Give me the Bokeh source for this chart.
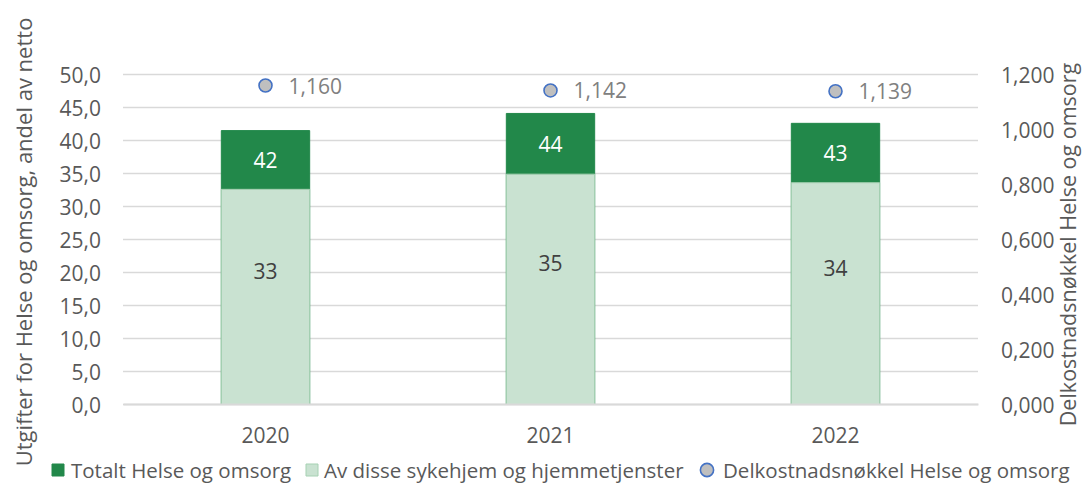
import math
from bokeh.plotting import figure
from bokeh.models import (ColumnDataSource, Range1d, LinearAxis, FixedTicker,
                          CustomJSTickFormatter, Legend, LegendItem, FactorRange, Label)
from bokeh.core.properties import value
from bokeh.embed import file_html
from bokeh.resources import INLINE

# ---- data ----
years = ["2020", "2021", "2022"]
totalt = [41.5, 44.1, 42.6]          # Totalt Helse og omsorg (share of net, %)
sykehjem = [32.6, 34.9, 33.6]        # Av disse sykehjem og hjemmetjenster
delkost = [1.160, 1.142, 1.139]      # Delkostnadsnøkkel Helse og omsorg
left_ticks = [0, 5, 10, 15, 20, 25, 30, 35, 40, 45, 50]
right_ticks = [0.0, 0.2, 0.4, 0.6, 0.8, 1.0, 1.2]
LEFT_MAX = 50
RIGHT_MAX = 1.2

# ---- layout geometry (pixels) ----
W, H = 1084, 483
PLOT_L, PLOT_R = 122.5, 977.5        # where the category area starts/ends
PLOT_T, PLOT_B = 74, 404             # y of max / y of zero
FRAME_L = 16
n = len(years)
px_per_cat = (PLOT_R - PLOT_L) / n
pad = (W - PLOT_R) / px_per_cat      # extra category-widths on each side
px_per_unit = (PLOT_B - PLOT_T) / LEFT_MAX
y_lo = -(H - PLOT_B) / px_per_unit
y_hi = LEFT_MAX + PLOT_T / px_per_unit
k = RIGHT_MAX / LEFT_MAX

FONT = "Open Sans"
DARK = "#22884A"
LIGHT = "#C9E2D1"
GRID = "#D9D9D9"
TXT = "#595959"
FS = "21px"
TITLE_FS = "22px"

src = ColumnDataSource(dict(
    year=years,
    totalt=totalt,
    sykehjem=sykehjem,
    delkost=delkost,
    dark_mid=[(t + s) / 2 for t, s in zip(totalt, sykehjem)],
    light_mid=[s / 2 for s in sykehjem],
    tot_lbl=[f"{t:.0f}" for t in totalt],
    syk_lbl=[f"{s:.0f}" for s in sykehjem],
    del_lbl=[f"{d:.3f}".replace(".", ",") for d in delkost],
))

p = figure(x_range=FactorRange(*years, range_padding=pad, range_padding_units="absolute"),
           y_range=Range1d(y_lo, y_hi),
           width=W, height=H, output_backend="svg", toolbar_location=None,
           min_border_left=FRAME_L, min_border_right=0, min_border_top=0,
           min_border_bottom=0)
p.extra_y_ranges = {"right": Range1d(y_lo * k, y_hi * k)}
p.outline_line_color = None
p.background_fill_color = "white"
p.border_fill_color = "white"
p.xgrid.visible = False
p.ygrid.visible = False

# gridlines across the category area only
p.segment(x0=0, x1=n, y0=left_ticks, y1=left_ticks, line_color=GRID, line_width=1.5)

# left axis
ya = p.yaxis[0]
ya.fixed_location = 0
ya.ticker = FixedTicker(ticks=left_ticks)
ya.formatter = CustomJSTickFormatter(code="return tick.toFixed(1).replace('.', ',');")
ya.axis_line_color = None
ya.major_tick_line_color = None
ya.minor_tick_line_color = None
ya.major_tick_out = 0
ya.major_label_standoff = 22
ya.major_label_text_font = FONT
ya.major_label_text_font_size = FS
ya.major_label_text_color = TXT
ya.axis_label = "Utgifter for Helse og omsorg, andel av netto"
ya.axis_label_text_font = FONT
ya.axis_label_text_font_size = TITLE_FS
ya.axis_label_text_font_style = "normal"
ya.axis_label_text_color = TXT
ya.axis_label_standoff = 19

# right axis
ra = LinearAxis(y_range_name="right", ticker=FixedTicker(ticks=right_ticks),
                formatter=CustomJSTickFormatter(code="return tick.toFixed(3).replace('.', ',');"))
ra.fixed_location = n
ra.axis_line_color = None
ra.major_tick_line_color = None
ra.minor_tick_line_color = None
ra.major_tick_out = 0
ra.major_label_standoff = 23
ra.major_label_text_font = FONT
ra.major_label_text_font_size = FS
ra.major_label_text_color = TXT
p.add_layout(ra, "right")

p.add_layout(Label(x=n, y=RIGHT_MAX / 2, y_range_name="right", x_offset=89, y_offset=-5,
                   text="Delkostnadsnøkkel Helse og omsorg", angle=math.pi / 2,
                   text_align="center", text_baseline="middle",
                   text_font=FONT, text_font_size="21.5px", text_color=TXT))

# x axis
xa = p.xaxis[0]
xa.fixed_location = 0
xa.bounds = (0, n)
xa.axis_line_color = GRID
xa.axis_line_width = 2
xa.major_tick_line_color = None
xa.minor_tick_line_color = None
xa.major_tick_out = 0
xa.major_label_standoff = 22
xa.major_label_text_font = FONT
xa.major_label_text_font_size = FS
xa.major_label_text_color = TXT

# bars (overlapping)
r_dark = p.vbar(x="year", top="totalt", bottom=0, width=0.31, source=src,
                fill_color=DARK, line_color=DARK, line_width=1)
r_light = p.vbar(x="year", top="sykehjem", bottom=0, width=0.31, source=src,
                 fill_color=LIGHT, line_color="#A6D1B3", line_width=1)

# data labels
p.text(x="year", y="dark_mid", text="tot_lbl", source=src,
       text_color="white", text_align="center", text_baseline="middle",
       text_font=value(FONT), text_font_size=FS)
p.text(x="year", y="light_mid", text="syk_lbl", source=src, y_offset=-26,
       text_color="#404040", text_align="center", text_baseline="middle",
       text_font=value(FONT), text_font_size=FS)

# dots on right axis
r_dot = p.scatter(x="year", y="delkost", y_range_name="right", source=src,
                  size=13, fill_color="#BFBFBF", line_color="#4472C4", line_width=1.6)
p.text(x="year", y="delkost", y_range_name="right", text="del_lbl", source=src,
       x_offset=23, text_color="#808080", text_align="left", text_baseline="middle",
       text_font=value(FONT), text_font_size=FS)


def make_legend(label, renderer, x, glyph, standoff):
    lg = Legend(items=[LegendItem(label=label, renderers=[renderer])],
                location=(x, -3), orientation="horizontal")
    lg.padding = 0
    lg.margin = 0
    lg.label_standoff = standoff
    lg.label_height = 33
    lg.glyph_width = glyph
    lg.glyph_height = glyph
    lg.label_text_font = FONT
    lg.label_text_font_size = "20.5px"
    lg.label_text_color = TXT
    lg.border_line_color = None
    lg.background_fill_alpha = 0
    p.add_layout(lg, "center")


make_legend("Totalt Helse og omsorg", r_dark, 34, 15, 6)
make_legend("Av disse sykehjem og hjemmetjenster", r_light, 288, 15, 5)
make_legend("Delkostnadsnøkkel Helse og omsorg", r_dot, 674, 33, 0)

open("out.html", "w").write(file_html(p, INLINE))
